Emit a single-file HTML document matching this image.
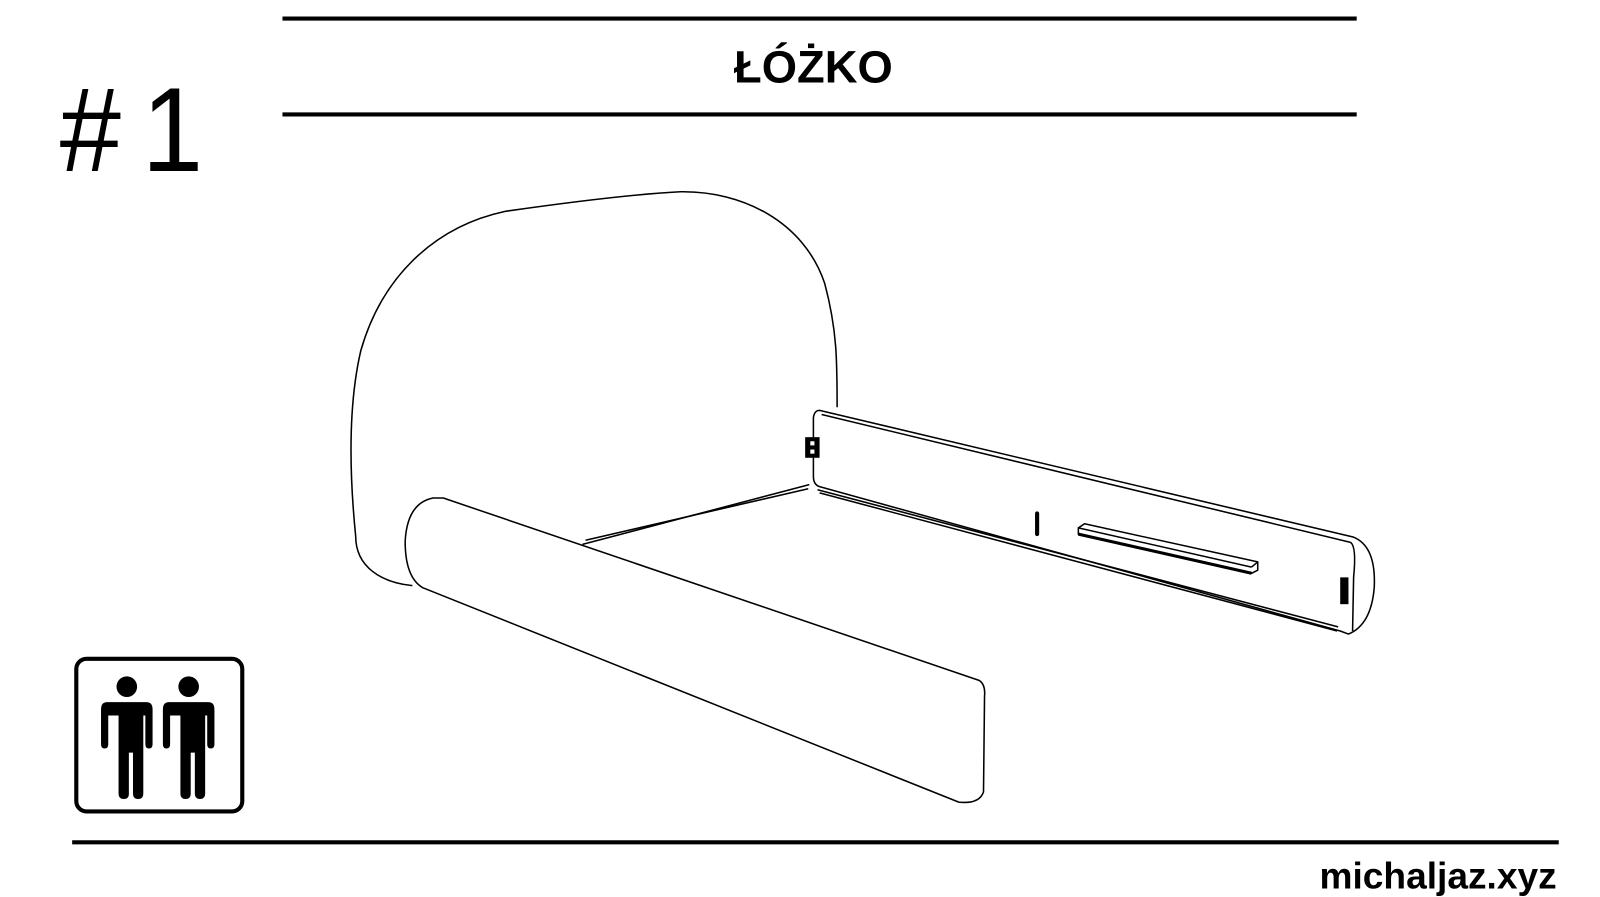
<!DOCTYPE html>
<html><head><meta charset="utf-8"><style>
html,body{margin:0;padding:0;background:#fff;width:1600px;height:897px;overflow:hidden}
svg{display:block}
</style></head><body>
<svg width="1600" height="897" viewBox="0 0 1552 870" preserveAspectRatio="none" xmlns="http://www.w3.org/2000/svg">
<rect width="1552" height="870" fill="#fff"/>
<g stroke="#000" stroke-width="4">
<line x1="274" y1="18" x2="1316" y2="18"/>
<line x1="274" y1="111" x2="1316" y2="111"/>
<line x1="70" y1="817" x2="1512" y2="817"/>
</g>
<text x="789" y="80" text-anchor="middle" font-family="Liberation Sans, sans-serif" font-weight="bold" font-size="44">ŁÓŻKO</text>
<text x="58" y="166" font-family="Liberation Sans, sans-serif" font-size="116" letter-spacing="22" transform="translate(58 0) scale(0.92 1) translate(-58 0)">#1</text>
<text x="1510" y="862" text-anchor="end" font-family="Liberation Sans, sans-serif" font-weight="bold" font-size="36">michaljaz.xyz</text>
<!-- icon -->
<rect x="74" y="639" width="161" height="148" rx="10" fill="none" stroke="#000" stroke-width="4"/>
<g fill="#000">
<g id="p">
<circle cx="123" cy="666" r="10"/>
<path d="M104 681 H142 Q148 681 148 688 V722 Q148 726 144.5 726 Q141 726 141 722 V694 H139 V770 Q139 775 134 775 Q129 775 129 770 V730 H125 V770 Q125 775 120 775 Q115 775 115 770 V694 H105 V722 Q105 726 101.5 726 Q98 726 98 722 V688 Q98 681 104 681 Z"/>
</g>
<use href="#p" x="60"/>
</g>
<!-- bed -->
<g fill="none" stroke="#000" stroke-width="1.5" stroke-linejoin="round">
<path d="M400 568 C370 565 345 550 345 520 C340 470 336 400 350 340 C370 270 420 220 490 205 C560 195 620 188 660 186 C720 185 780 215 800 275 C812 320 812 350 812 395"/>
<path d="M430 483 L950 660 Q956 664 955 675 L954 768 Q950 780 930 778 L410 570 Q393 560 393 525 Q395 488 420 483 Z"/>
<line x1="565" y1="528" x2="785" y2="470"/>
<line x1="568" y1="524" x2="784" y2="474"/>
<path d="M795 398 L1313 521 Q1335 530 1333 570 Q1330 606 1308 615 L1300 612 L795 472 Q789 470 789 462 L789 405 Q790 398 795 398 Z"/>
<line x1="797" y1="402" x2="1310" y2="526"/>
<path d="M1310 526 Q1316 530 1313 560 L1312 612"/>
<line x1="793" y1="475" x2="1298" y2="608"/>
<line x1="795" y1="478" x2="1297" y2="612"/>
<path d="M1046 512 L1052 508 L1220 545 L1220 553 L1214 556 L1046 518 Z"/>
<line x1="1046" y1="512" x2="1214" y2="550"/>
<line x1="1214" y1="550" x2="1220" y2="545"/>
</g>
<g fill="#000">
<rect x="781" y="424" width="14" height="20"/>
<rect x="1004" y="496" width="4" height="24" rx="2"/>
<rect x="1300" y="560" width="8" height="26"/>
<line x1="1046" y1="518" x2="1214" y2="556" stroke="#000" stroke-width="3"/>
</g>
<g fill="#fff"><rect x="786" y="428" width="4" height="4"/><rect x="786" y="436" width="4" height="4"/></g>
</svg>
</body></html>
